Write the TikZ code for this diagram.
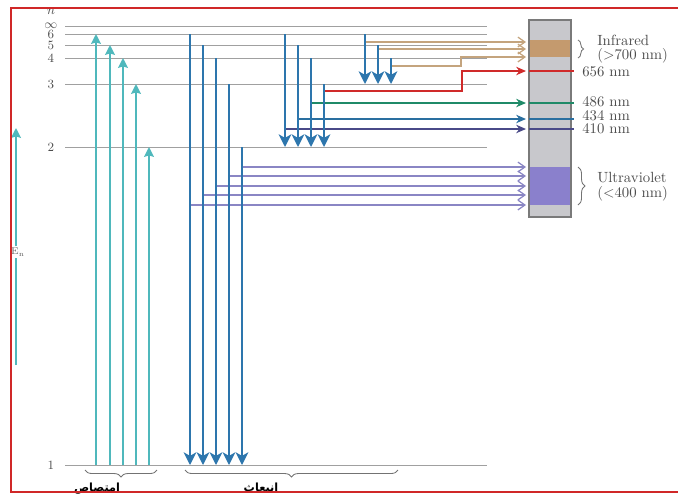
\documentclass[tikz,border=0pt]{standalone}
\usepackage{fontspec}
\usepackage{tikz}
\usetikzlibrary{arrows.meta,decorations.pathreplacing}
\newfontfamily\arabicfont[Script=Arabic]{DejaVu Sans}
\TeXXeTstate=1
\definecolor{framered}{HTML}{D02828}
\definecolor{lvlgray}{HTML}{A0A0A0}
\definecolor{abscyan}{HTML}{4FB8BC}
\definecolor{emisblue}{HTML}{2D76AD}
\definecolor{uvlav}{HTML}{8A86C4}
\definecolor{tanc}{HTML}{C4A47E}
\definecolor{red656}{HTML}{D02A2A}
\definecolor{green486}{HTML}{1F8A68}
\definecolor{blue434}{HTML}{2A6FA0}
\definecolor{navy410}{HTML}{4A4A88}
\definecolor{barfill}{HTML}{C8C8CC}
\definecolor{bardraw}{HTML}{7A7A7A}
\definecolor{irband}{HTML}{C49A6E}
\definecolor{uvband}{HTML}{8A80CC}

\begin{document}
\begin{tikzpicture}[x=0.025cm,y=-0.025cm,>=Stealth,
  lvl/.style={draw=lvlgray,line width=0.6pt},
  num/.style={font=\small,text=black!70,inner sep=0pt},
  ab/.style={draw=abscyan,line width=1.2pt,-{Stealth[length=7pt,width=7pt,inset=1pt]}},
  em/.style={draw=emisblue,line width=1.4pt,-{Stealth[length=9pt,width=9pt,inset=2.5pt]}},
  ray/.style={line width=0.9pt,-{Straight Barb[length=5pt,width=7pt]}},
  vis/.style={line width=1pt,-{Stealth[length=7pt,width=6pt]}},
  wl/.style={anchor=west,font=\fontsize{10.5}{11}\selectfont,text=black!70,inner sep=0pt},
  brc/.style={draw=black!55,line width=0.6pt,decorate},
  ar/.style={font=\arabicfont\bfseries\footnotesize,anchor=base,inner sep=0pt}]
  \useasboundingbox (0,0) rectangle (678,495);

  % energy levels
  \foreach \n/\y/\lab in {inf/26/$\infty$,6/34/6,5/45/5,4/58/4,3/84/3,2/147/2,1/465/1}{
    \coordinate (L\n) at (65,\y);
    \coordinate (R\n) at (487,\y);
    \draw[lvl] (L\n) -- (R\n);
    \node[num] (t\n) at (51,\y) {\lab};
  }
  \node[num] (nlab) at (51,12) {$n$};

  % energy axis
  \coordinate (Ebot) at (16,365);
  \coordinate (Etop) at (16,128);
  \node[font=\scriptsize,text=black!60,inner sep=1pt] (En) at (18,252) {E\textsubscript{n}};
  \draw[abscyan,line width=1.1pt] (Ebot) -- (Ebot |- En.south);
  \draw[ab] (Etop |- En.north) -- (Etop);

  % spectrum bar
  \coordinate (barNW) at (529,20);
  \coordinate (barSE) at (571,217);
  \coordinate (barW) at (526,0);
  \fill[barfill] (barNW) rectangle (barSE);
  \fill[irband] (529,40) rectangle (571,57);
  \fill[uvband] (529,167) rectangle (571,205);
  \draw[bardraw,line width=0.8pt] (barNW) rectangle (barSE);

  % absorption
  \foreach \x/\n in {96/6,110/5,123/4,136/3,149/2}
    \draw[ab] (\x,0 |- L1) -- (\x,0 |- L\n);

  % emission to n=1 (ultraviolet)
  \foreach \x/\n/\h in {190/6/205,203/5/195,216/4/186,229/3/176,242/2/167}{
    \coordinate (ly\n) at (\x,\h);
    \draw[ray,uvlav] (ly\n) -- (ly\n -| barW);
    \draw[em] (\x,0 |- L\n) -- (\x,0 |- L1);
  }

  % emission to n=2 (visible)
  \coordinate (ba6) at (285,129);
  \coordinate (ba5) at (298,119);
  \coordinate (ba4) at (311,103);
  \coordinate (ba3) at (324,91);
  \draw[vis,navy410] (ba6) -- (ba6 -| barW);
  \draw[vis,blue434] (ba5) -- (ba5 -| barW);
  \draw[vis,green486] (ba4) -- (ba4 -| barW);
  \draw[vis,red656] (ba3) -- (462,91) -- (462,71) -- (526,71);
  \foreach \y/\c in {71/red656,103/green486,119/blue434,129/navy410}
    \draw[\c,line width=1pt] (529,\y) -- (574,\y);
  \foreach \x/\n in {285/6,298/5,311/4,324/3}
    \draw[em] (\x,0 |- L\n) -- (\x,0 |- L2);

  % emission to n=3 (infrared)
  \coordinate (pa6) at (365,42);
  \coordinate (pa5) at (378,49);
  \coordinate (pa4) at (391,66);
  \draw[ray,tanc] (pa6) -- (pa6 -| barW);
  \draw[ray,tanc] (pa5) -- (pa5 -| barW);
  \draw[ray,tanc] (pa4) -- (461,66) -- (461,57) -- (526,57);
  \foreach \x/\n in {365/6,378/5,391/4}
    \draw[em] (\x,0 |- L\n) -- (\x,0 |- L3);

  % wavelength labels
  \draw[brc,decoration={brace,amplitude=4pt}] (578,40) -- (578,58);
  \node[wl] (ir) at (597,40) {Infrared};
  \node[wl] (irnm) at (597,56) {(>700 nm)};
  \node[wl] (w656) at (582,72) {656 nm};
  \node[wl] (w486) at (582,102) {486 nm};
  \node[wl] (w434) at (582,116) {434 nm};
  \node[wl] (w410) at (582,129) {410 nm};
  \draw[brc,decoration={brace,amplitude=5pt}] (578,167) -- (578,205);
  \node[wl] (uv) at (597,178) {Ultraviolet};
  \node[wl] (uvnm) at (597,194) {(<400 nm)};

  % braces below
  \draw[brc,decoration={brace,mirror,amplitude=5pt}] (85,470) -- (157,470);
  \draw[brc,decoration={brace,mirror,amplitude=5pt}] (185,470) -- (398,470);
  \node[ar] (absn) at (97,491) {\beginR امتصاص\endR};
  \node[ar] (emsn) at (261,491) {\beginR انبعاث\endR};

  % frame
  \draw[framered,line width=1.2pt] (690,8) -- (11,8) -- (11,492) -- (690,492);
\end{tikzpicture}
\end{document}
